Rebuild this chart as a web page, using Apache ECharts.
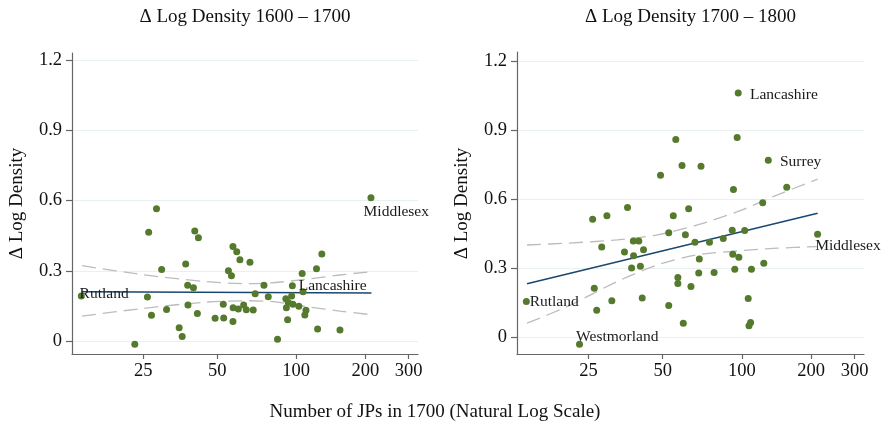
<!DOCTYPE html>
<html><head><meta charset="utf-8">
<script src="https://cdn.jsdelivr.net/npm/echarts@6.0.0/dist/echarts.min.js"></script>
<style>html,body{margin:0;padding:0;background:#fff}#c{width:884px;height:423px}</style>
</head><body><div id="c"></div>
<script>
// ---------- text ----------
const panelTitles = ['Δ Log Density 1600 – 1700', 'Δ Log Density 1700 – 1800'];
const yAxisTitle = 'Δ Log Density';
const xAxisTitle = 'Number of JPs in 1700 (Natural Log Scale)';

// ---------- ticks ----------
const xTickValues = [25, 50, 104.6, 200, 300];
const xTickLabels = ['25', '50', '100', '200', '300'];
const yTickValues = [0, 0.3, 0.6, 0.9, 1.2];
const yTickLabels = ['0', '0.3', '0.6', '0.9', '1.2'];

// ---------- left panel: 1600-1700 ----------
const jpsLeft = [14.0, 23.1, 26.0, 26.3, 27.0, 28.3, 29.7, 31.1, 35.0, 36.0, 37.2, 37.9, 38.0, 40.0, 40.5, 41.5, 41.9,
  49.0, 52.9, 53.1, 55.5, 57.1, 57.9, 57.9, 58.0, 60.0, 60.9, 61.8, 64.0, 65.6, 67.9, 70.0, 71.3, 77.4, 80.6, 87.9,
  95.0, 95.5, 96.6, 97.2, 100.3, 101.0, 101.5, 107.3, 110.7, 111.6, 113.5, 114.7, 126.6, 127.9, 133.1, 157.7, 210.8];
const dLeft = [0.192, -0.014, 0.188, 0.465, 0.110, 0.565, 0.306, 0.135, 0.057, 0.019, 0.329, 0.238, 0.154, 0.228, 0.470, 0.118, 0.441,
  0.097, 0.157, 0.098, 0.300, 0.279, 0.404, 0.083, 0.142, 0.381, 0.137, 0.347, 0.154, 0.134, 0.337, 0.132, 0.202, 0.238, 0.189, 0.007,
  0.181, 0.142, 0.091, 0.164, 0.192, 0.236, 0.157, 0.149, 0.289, 0.210, 0.111, 0.131, 0.309, 0.051, 0.372, 0.047, 0.612];
const namesLeft = {0: 'Rutland', 41: 'Lancashire', 52: 'Middlesex'};
const fitLeftX = [14.09, 211.8];
const fitLeftY = [0.211, 0.205];
const ciLeftX = [14.09, 23.95, 44.65, 67.0, 84.3, 115.3, 157.4, 205.2];
const ciLeftUpper = [0.322, 0.286, 0.254, 0.245, 0.249, 0.264, 0.282, 0.295];
const ciLeftLower = [0.106, 0.137, 0.166, 0.172, 0.168, 0.147, 0.128, 0.114];

// ---------- right panel: 1700-1800 ----------
const jpsRight = [14.0, 23.0, 26.0, 26.4, 27.0, 28.3, 29.7, 31.1, 35.0, 36.0, 37.4, 38.0, 38.1, 40.0, 40.6, 41.3, 41.8,
  49.0, 52.9, 52.9, 55.2, 56.5, 57.6, 57.6, 59.9, 60.6, 61.8, 63.7, 65.1, 67.6, 70.0, 70.4, 71.5, 77.4, 80.8, 88.0,
  95.7, 96.2, 96.8, 98.0, 100.2, 101.2, 101.8, 107.5, 111.1, 111.9, 113.6, 114.5, 127.2, 128.5, 134.0, 159.2, 212.3];
const dRight = [0.156, -0.030, 0.514, 0.214, 0.118, 0.393, 0.529, 0.160, 0.371, 0.565, 0.302, 0.419, 0.355, 0.419, 0.309, 0.172, 0.381,
  0.705, 0.455, 0.139, 0.529, 0.861, 0.261, 0.234, 0.748, 0.062, 0.446, 0.559, 0.222, 0.414, 0.280, 0.341, 0.744, 0.414, 0.282, 0.430,
  0.466, 0.362, 0.643, 0.296, 0.869, 1.063, 0.349, 0.465, 0.169, 0.051, 0.065, 0.297, 0.586, 0.323, 0.770, 0.653, 0.449];
const namesRight = {0: 'Rutland', 1: 'Westmorland', 41: 'Lancashire', 50: 'Surrey', 52: 'Middlesex'};
const fitRightX = [14.09, 212.4];
const fitRightY = [0.233, 0.540];
const ciRightX = [14.09, 20.48, 32.70, 47.55, 69.12, 100.47, 146.1, 212.4];
const ciRightUpper = [0.402, 0.410, 0.424, 0.446, 0.489, 0.547, 0.620, 0.688];
const ciRightLower = [0.062, 0.134, 0.243, 0.315, 0.359, 0.376, 0.388, 0.395];

// ---------- styling / layout ----------
const FONT = "'Liberation Serif', 'Times New Roman', serif";
const X_MIN = 12.83, X_MAX = 327.5;
const yRanges = [[-0.0556, 1.231], [-0.072, 1.241]];
const grids = [
  {left: 72, top: 53, width: 346, height: 301},
  {left: 517, top: 52, width: 347, height: 302}
];
const labelOffsets = [
  {Rutland: [-1.7, -1.7], Lancashire: [6.3, 0], Middlesex: [-7.4, 14.4]},
  {Rutland: [3.3, 0.6], Westmorland: [-3.4, -7.4], Lancashire: [11.7, 1.7], Surrey: [11.7, 1.3], Middlesex: [-2.3, 12]}
];
const SYM = 7;
const AXIS_COLOR = '#666666';
const MARKER = '#557a2e';

function nearestLabel(v, vals, labels, tf) {
  let best = 0, bd = Infinity;
  vals.forEach((t, i) => { const d = Math.abs(tf(t) - v); if (d < bd) { bd = d; best = i; } });
  return labels[best];
}

const xAxes = [], yAxes = [], series = [];
const panels = [
  {x: jpsLeft, y: dLeft, names: namesLeft, fx: fitLeftX, fy: fitLeftY, cx: ciLeftX, cu: ciLeftUpper, cl: ciLeftLower},
  {x: jpsRight, y: dRight, names: namesRight, fx: fitRightX, fy: fitRightY, cx: ciRightX, cu: ciRightUpper, cl: ciRightLower}
];

panels.forEach((p, k) => {
  // data axis (log scale, hidden)
  xAxes.push({type: 'log', gridIndex: k, min: X_MIN, max: X_MAX, show: false, logBase: 10});
  // label axis in natural-log space
  xAxes.push({
    type: 'value', gridIndex: k, min: Math.log(X_MIN), max: Math.log(X_MAX), position: 'bottom',
    axisLine: {show: true, onZero: false, lineStyle: {color: AXIS_COLOR, width: 1.2}},
    axisTick: {show: true, inside: false, length: 5, customValues: xTickValues.map(Math.log), lineStyle: {color: AXIS_COLOR, width: 1.2}},
    axisLabel: {show: true, margin: 8, customValues: xTickValues.map(Math.log), fontFamily: FONT, fontSize: 18.5, color: '#111',
      formatter: v => nearestLabel(v, xTickValues, xTickLabels, Math.log)},
    splitLine: {show: false}
  });
  yAxes.push({
    type: 'value', gridIndex: k, min: yRanges[k][0], max: yRanges[k][1],
    axisLine: {show: true, onZero: false, lineStyle: {color: AXIS_COLOR, width: 1.2}},
    axisTick: {show: true, inside: false, length: 6, customValues: yTickValues, lineStyle: {color: AXIS_COLOR, width: 1.2}},
    axisLabel: {show: true, margin: 10, customValues: yTickValues, fontFamily: FONT, fontSize: 18.5, color: '#111',
      formatter: v => nearestLabel(v, yTickValues, yTickLabels, t => t)},
    splitLine: {show: true, lineStyle: {color: '#e8f0f1', width: 1}}
  });
  const xi = k * 2;
  const data = p.x.map((xv, i) => {
    const item = {value: [xv, p.y[i]]};
    const nm = p.names[i];
    if (nm) {
      const off = labelOffsets[k][nm];
      item.label = {show: true, formatter: nm, position: 'right', distance: 0,
        offset: [off[0] - SYM / 2, off[1]], fontFamily: FONT, fontSize: 15.5, color: '#1a1a1a'};
    }
    return item;
  });
  series.push({
    type: 'line', xAxisIndex: xi, yAxisIndex: k, data: p.cx.map((xv, i) => [xv, p.cu[i]]),
    smooth: 0.3, showSymbol: false, symbol: 'none', silent: true, z: 2,
    lineStyle: {color: '#bcbcbc', width: 1.3, type: [14, 7]}
  });
  series.push({
    type: 'line', xAxisIndex: xi, yAxisIndex: k, data: p.cx.map((xv, i) => [xv, p.cl[i]]),
    smooth: 0.3, showSymbol: false, symbol: 'none', silent: true, z: 2,
    lineStyle: {color: '#bcbcbc', width: 1.3, type: [14, 7]}
  });
  series.push({
    type: 'line', xAxisIndex: xi, yAxisIndex: k, data: p.fx.map((xv, i) => [xv, p.fy[i]]),
    showSymbol: false, symbol: 'none', silent: true, z: 3,
    lineStyle: {color: '#1a476f', width: 1.5}
  });
  series.push({
    type: 'scatter', xAxisIndex: xi, yAxisIndex: k, data: data, symbolSize: SYM, z: 4,
    itemStyle: {color: MARKER, opacity: 1}, label: {show: false}
  });
});

const textStyle = {fontFamily: FONT, fontSize: 19, fill: '#111', textAlign: 'center', textVerticalAlign: 'middle'};
const graphic = [
  {type: 'text', x: 245, y: 17, style: Object.assign({text: panelTitles[0]}, textStyle)},
  {type: 'text', x: 690.5, y: 17, style: Object.assign({text: panelTitles[1]}, textStyle)},
  {type: 'text', x: 17.5, y: 203.5, rotation: Math.PI / 2, style: Object.assign({text: yAxisTitle}, textStyle)},
  {type: 'text', x: 462, y: 203.5, rotation: Math.PI / 2, style: Object.assign({text: yAxisTitle}, textStyle)},
  {type: 'text', x: 435, y: 412, style: Object.assign({text: xAxisTitle}, textStyle)}
];

const chart = echarts.init(document.getElementById('c'), null, {renderer: 'canvas'});
chart.setOption({
  animation: false,
  backgroundColor: '#ffffff',
  grid: grids,
  xAxis: xAxes,
  yAxis: yAxes,
  series: series,
  graphic: graphic
});
</script>
</body></html>
